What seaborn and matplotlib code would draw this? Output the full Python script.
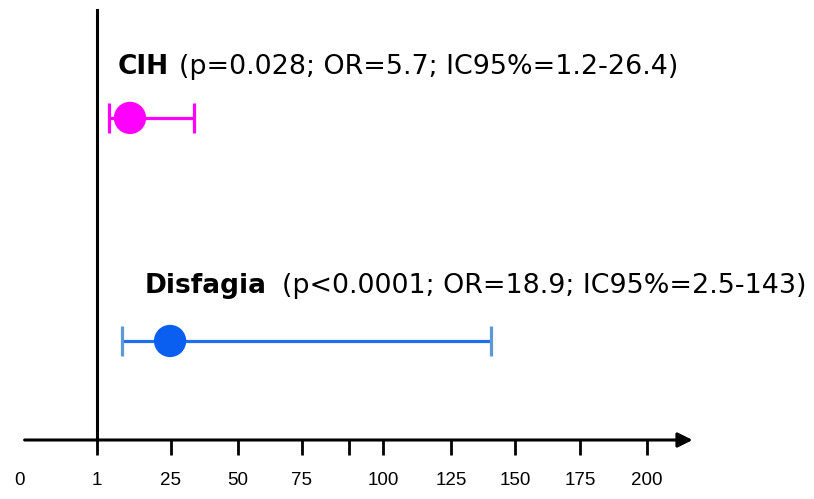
import numpy as np
import matplotlib
matplotlib.use('Agg')
import matplotlib.pyplot as plt
import seaborn as sns
import pandas as pd

sns.set_style('white')
plt.rcParams['font.family'] = ['Liberation Sans', 'DejaVu Sans']
plt.rcParams['text.color'] = 'black'
plt.rcParams['xtick.color'] = 'black'

# Data (OR and CI ends as drawn on the axis)
variables = ['CIH', 'Disfagia']
stats = ['(p=0.028; OR=5.7; IC95%=1.2-26.4)', '(p<0.0001; OR=18.9; IC95%=2.5-143)']
odds = [11.7, 24.7]
ci_low = [4.9, 9.1]
ci_high = [33.6, 140.6]
rows = [1, 0]
tick_values = [0, 1, 25, 50, 75, 100, 125, 150, 175, 200]
tick_labels = ['0', '1', '25', '50', '75', '100', '125', '150', '175', '200']

df = pd.DataFrame({'var': variables, 'OR': odds, 'lo': ci_low, 'hi': ci_high, 'row': rows})

# the axis in the original is hand drawn, ticks are not evenly spaced
anchor_v = np.array([-10, 0, 1, 25, 50, 75, 100, 125, 150, 175, 200, 300])
anchor_px = np.array([-750, 20, 97, 171, 238, 302, 383, 451, 515, 580, 647, 915])


def fwd(v):
    return np.interp(v, anchor_v, anchor_px)


def inv(p):
    return np.interp(p, anchor_px, anchor_v)


fig = plt.figure(figsize=(8.14, 4.99), dpi=100)
ax = fig.add_axes([0, 59 / 499, 1, 430 / 499])
ax.set_xscale('function', functions=(fwd, inv))
ax.set_xlim(inv(0), inv(814))
ax.set_ylim(-0.444, 1.484)

line_colors = ['#FF00FF', '#1F6FEB']
cap_colors = ['#FF00FF', '#5B9BD5']
dot_colors = {'CIH': '#FF00FF', 'Disfagia': '#0A5FF0'}

ax.hlines(df['row'], df['lo'], df['hi'], colors=line_colors, lw=2.3, zorder=2)
for i, r in df.iterrows():
    ax.plot([r['lo'], r['hi']], [r['row'], r['row']], ls='none', marker='|',
            ms=21, mew=2.3, color=cap_colors[i], zorder=2)
sns.scatterplot(data=df, x='OR', y='row', hue='var', palette=dot_colors, s=540,
                edgecolor='none', legend=False, ax=ax, zorder=3)

# axes
sns.despine(ax=ax, top=True, right=True)
ax.spines['left'].set_position(('data', 1))
ax.spines['left'].set_linewidth(2.2)
ax.spines['left'].set_color('black')
ax.spines['bottom'].set_visible(False)
ax.set_yticks([])
ax.set_xlabel('')
ax.set_ylabel('')

ax.set_xticks(tick_values)
ax.set_xticklabels(tick_labels)
ax.set_xticks([89.5], minor=True)
ax.tick_params(axis='x', which='both', direction='out', length=11, width=2,
               color='black', bottom=True, pad=12, labelsize=13.5,
               labelcolor='black')
ax.xaxis.get_major_ticks()[0].tick1line.set_visible(False)

ax.annotate('', xy=(217, 0), xytext=(0.06, 0), xycoords=('data', 'axes fraction'),
            arrowprops=dict(arrowstyle='-|>', color='black', lw=2.2,
                            mutation_scale=22, shrinkA=0, shrinkB=0),
            annotation_clip=False)

# labels above each row (figure pixels: name x, stats x, baseline y)
label_pos = [(118, 179, 74.5), (145, 282, 293)]
for i in range(len(variables)):
    x1, x2, y = label_pos[i]
    fig.text(x1 / 814, 1 - y / 499, variables[i], fontsize=19, fontweight='bold',
             family='DejaVu Sans', va='baseline', ha='left', color='black')
    fig.text(x2 / 814, 1 - y / 499, stats[i], fontsize=19.4,
             family='DejaVu Sans', va='baseline', ha='left', color='black')

fig.savefig('out.png', dpi=100)
